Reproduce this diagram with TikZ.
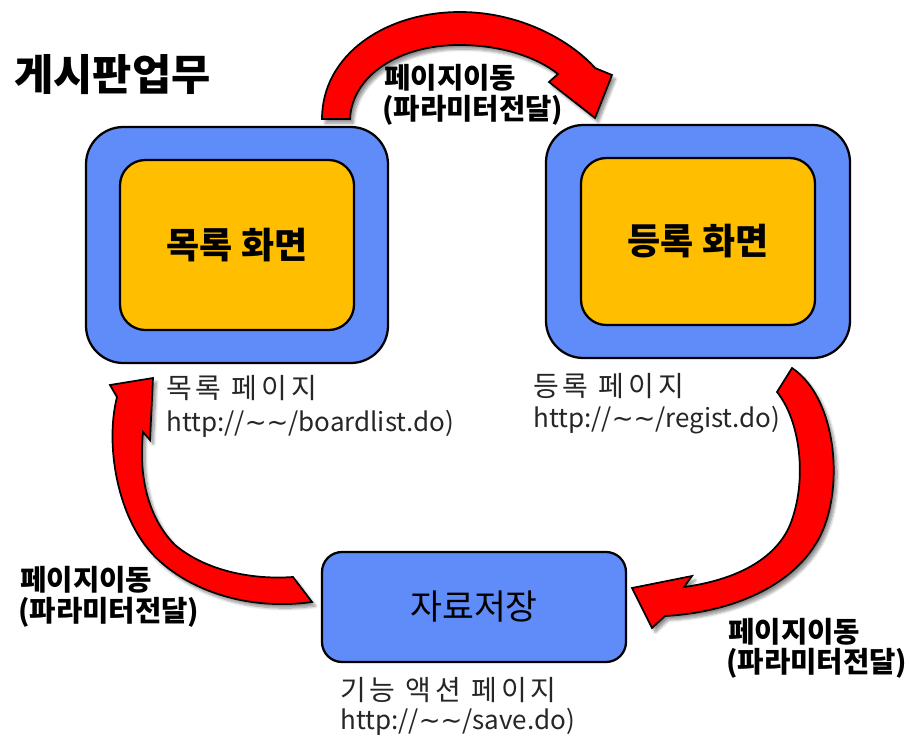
\documentclass[tikz,border=0pt]{standalone}
\usepackage{fontspec}
\setmainfont{Noto Sans CJK KR}
\newfontfamily\symfont{DejaVu Sans}
\usetikzlibrary{shadows.blur}
\definecolor{boxblue}{RGB}{96,140,250}
\definecolor{boxyellow}{RGB}{255,190,0}
\definecolor{flowred}{RGB}{255,0,0}
\newcommand{\tl}{{\symfont ∼}}
\begin{document}
\begin{tikzpicture}[x=0.75pt,y=-0.75pt,
  outerbox/.style={draw=black,line width=1.7pt,fill=boxblue,rounded corners=28pt},
  innerbox/.style={draw=black,line width=1.7pt,fill=boxyellow,rounded corners=19pt,
    font=\fontsize{27pt}{30pt}\selectfont\bfseries},
  flow/.style={draw=black,line width=1.3pt,fill=flowred,line join=miter,
    blur shadow={shadow xshift=2.5pt,shadow yshift=-3pt,shadow opacity=45,shadow blur steps=8}},
  pagelbl/.style={anchor=west,inner sep=0pt,text=black!85,font=\fontsize{21pt}{24pt}\selectfont\addfontfeatures{LetterSpace=14}},
  urllbl/.style={anchor=west,inner sep=0pt,text=black!85,font=\fontsize{19.5pt}{23pt}\selectfont},
  movelbl/.style={anchor=west,inner sep=0pt,font=\fontsize{21.5pt}{24pt}\selectfont\bfseries},
]
\useasboundingbox (0,0) rectangle (910,736);

% title
\node[anchor=west,inner sep=0pt,font=\fontsize{32pt}{36pt}\selectfont\bfseries] (title) at (14,75) {게시판업무};

% list screen
\node[outerbox,minimum width=302*0.75pt,minimum height=236*0.75pt] (listOuter) at (237,245) {};
\node[innerbox,minimum width=234*0.75pt,minimum height=170*0.75pt] (listInner) at (237,245) {목록 화면};

% register screen
\node[outerbox,minimum width=304*0.75pt,minimum height=233*0.75pt] (regOuter) at (698,241.5) {};
\node[innerbox,minimum width=234*0.75pt,minimum height=167*0.75pt] (regInner) at (698,241.5) {등록 화면};

% save action
\node[draw=black,line width=1.7pt,fill=boxblue,rounded corners=15pt,
  minimum width=304*0.75pt,minimum height=110*0.75pt,
  font=\fontsize{26pt}{29pt}\selectfont] (save) at (474,607) {자료저장};

% page captions
\node[pagelbl] (listCap) at (166,388) {목록 페이지};
\node[urllbl] (listUrl) at (166,424) {http://\tl\tl/boardlist.do)};
\node[pagelbl] (regCap) at (533,386) {등록 페이지};
\node[urllbl] (regUrl) at (533,420) {http://\tl\tl/regist.do)};
\node[pagelbl] (saveCap) at (340,690) {기능 액션 페이지};
\node[urllbl] (saveUrl) at (340,722) {http://\tl\tl/save.do)};

% top curved arrow: list -> register
\path[flow] (322,119) .. controls (322,55) and (385,12) .. (460,12)
  .. controls (522,12) and (572,42) .. (595,68)
  -- (612,75) -- (595,118) -- (549,82) -- (558,74)
  .. controls (538,58) and (503,45) .. (459,45)
  .. controls (400,45) and (352,75) .. (350,119) -- cycle;

% right curved arrow: register -> save
\path[flow] (792,368) .. controls (840,400) and (845,500) .. (815,545)
  .. controls (790,585) and (735,612) .. (665,616)
  -- (652,628) -- (632,588) -- (692,576) -- (684,587)
  .. controls (735,580) and (775,560) .. (790,525)
  .. controls (808,480) and (800,420) .. (777,392) -- cycle;

% left curved arrow: save -> list
\path[flow] (312,602) .. controls (240,612) and (175,585) .. (145,545)
  .. controls (115,505) and (106,440) .. (117,397)
  -- (110,385) -- (153,378) -- (150,440) -- (143,432)
  .. controls (138,480) and (150,520) .. (175,545)
  .. controls (205,570) and (250,580) .. (293,577) -- cycle;

% arrow captions
\node[movelbl] (topMove1) at (384,78) {페이지이동};
\node[movelbl] (topMove2) at (382,110) {(파라미터전달)};
\node[movelbl] (leftMove1) at (20,580) {페이지이동};
\node[movelbl] (leftMove2) at (18,612) {(파라미터전달)};
\node[movelbl] (rightMove1) at (728,632) {페이지이동};
\node[movelbl] (rightMove2) at (726,663) {(파라미터전달)};
\end{tikzpicture}
\end{document}
